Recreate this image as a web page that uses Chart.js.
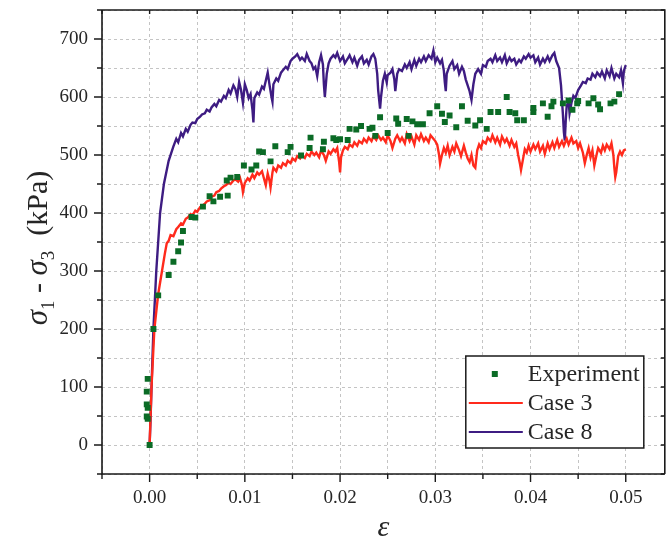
<!DOCTYPE html>
<html><head><meta charset="utf-8">
<script src="https://cdn.jsdelivr.net/npm/chart.js@4.4.1/dist/chart.umd.min.js"></script>
<style>html,body{margin:0;padding:0;background:#fff;overflow:hidden}#wrap{width:669px;height:546px;position:relative}</style>
</head><body><div id="wrap"><canvas id="c"></canvas></div>
<script>
const seriesNames = ['Experiment', 'Case 3', 'Case 8'];
const xTicks = [0, 0.01, 0.02, 0.03, 0.04, 0.05];
const yTicks = [0, 100, 200, 300, 400, 500, 600, 700];

const expStrain = [0,-0.0002,-0.0003,-0.0002,-0.0003,-0.0003,-0.0002,0.0004,0.0009,0.002,0.0025,0.003,0.0033,0.0035,0.0044,0.0048,0.0056,0.0063,0.0067,0.0074,0.0082,0.0081,0.0085,0.0092,0.0099,0.0107,0.0112,0.0115,0.0119,0.0127,0.0132,0.0145,0.0148,0.0159,0.0168,0.0169,0.0182,0.0183,0.0193,0.0196,0.02,0.0208,0.021,0.0217,0.0222,0.0231,0.0234,0.0237,0.0242,0.025,0.0259,0.0261,0.027,0.0272,0.0276,0.0281,0.0287,0.0294,0.0302,0.0307,0.031,0.0315,0.0322,0.0328,0.0334,0.0342,0.0347,0.0354,0.0358,0.0366,0.0375,0.0378,0.0384,0.0386,0.0393,0.0403,0.0403,0.0413,0.0418,0.0422,0.0424,0.0434,0.044,0.0444,0.0449,0.045,0.0461,0.0466,0.0471,0.0473,0.0484,0.0488,0.0493];
const expStress = [0,45,49,64,70,92,114,200,258,293,316,334,349,369,393,392,411,429,420,428,430,456,461,462,482,475,482,506,505,489,515,505,514,499,512,530,510,523,529,526,527,526,545,544,550,545,547,533,565,538,563,554,562,533,558,553,553,572,584,571,557,568,548,584,559,551,560,545,574,574,600,574,572,560,560,581,574,589,566,584,592,589,594,578,589,593,589,598,587,579,589,592,605];

const case3Strain = [0,0.0002,0.0005,0.0009,0.0013,0.0016,0.0018,0.002,0.0022,0.0025,0.0028,0.003,0.0033,0.0035,0.0038,0.004,0.0043,0.0045,0.0048,0.005,0.0053,0.0055,0.0058,0.006,0.0063,0.0065,0.0068,0.007,0.0073,0.0075,0.0078,0.008,0.0083,0.0085,0.0088,0.009,0.0093,0.0095,0.0097,0.0098,0.01,0.0103,0.0105,0.0108,0.011,0.0113,0.0115,0.0118,0.012,0.0122,0.0124,0.0126,0.0127,0.0129,0.013,0.0133,0.0135,0.0138,0.014,0.0143,0.0145,0.0148,0.015,0.0153,0.0155,0.0158,0.016,0.0163,0.0165,0.0168,0.017,0.0173,0.0175,0.0178,0.018,0.0183,0.0185,0.0188,0.019,0.0193,0.0195,0.0197,0.0199,0.02,0.0201,0.0203,0.0205,0.0208,0.021,0.0213,0.0215,0.0218,0.022,0.0223,0.0225,0.0228,0.023,0.0233,0.0235,0.0238,0.024,0.0243,0.0245,0.0248,0.025,0.0253,0.0255,0.0258,0.026,0.0263,0.0265,0.0268,0.027,0.0273,0.0275,0.0278,0.028,0.0283,0.0285,0.0288,0.029,0.0293,0.0295,0.0298,0.03,0.0302,0.0304,0.0305,0.0307,0.0309,0.0311,0.0313,0.0315,0.0318,0.032,0.0322,0.0325,0.0327,0.033,0.0332,0.0334,0.0336,0.0338,0.034,0.0342,0.0344,0.0346,0.0348,0.035,0.0353,0.0355,0.0358,0.036,0.0363,0.0365,0.0368,0.037,0.0373,0.0375,0.0378,0.038,0.0383,0.0385,0.0387,0.0389,0.039,0.0392,0.0394,0.0396,0.0398,0.04,0.0403,0.0405,0.0408,0.041,0.0413,0.0415,0.0418,0.042,0.0423,0.0425,0.0428,0.043,0.0433,0.0435,0.0438,0.044,0.0443,0.0445,0.0448,0.045,0.0452,0.0455,0.0457,0.0459,0.0461,0.0463,0.0465,0.0467,0.0469,0.0471,0.0474,0.0476,0.0478,0.048,0.0483,0.0485,0.0487,0.0488,0.0489,0.049,0.0492,0.0494,0.0496,0.0498,0.05];
const case3Stress = [0,100,200,260,300,330,348,352,362,360,372,376,382,380,390,392,398,396,404,402,410,412,416,420,422,428,430,436,438,442,446,448,452,450,456,458,454,460,448,436,452,460,456,466,460,470,466,472,460,448,468,455,444,470,478,472,482,478,486,482,490,486,494,490,498,494,500,495,502,498,506,500,504,496,508,500,490,506,502,510,506,512,488,470,496,508,514,510,518,514,522,516,524,520,528,522,530,524,532,526,534,526,530,522,534,524,512,528,534,524,530,520,536,524,532,518,534,526,536,524,530,522,534,528,524,518,500,485,500,512,504,516,500,514,506,520,508,498,516,504,494,488,500,482,478,508,518,512,524,520,530,524,534,522,530,518,532,522,528,516,526,514,520,500,484,474,492,510,504,516,506,518,510,520,506,516,502,520,510,522,512,526,514,524,516,528,518,530,520,524,512,520,504,486,500,512,496,508,482,498,512,504,516,508,518,510,520,500,478,462,470,498,506,500,508,510];

const case8Strain = [0,0.0001,0.0002,0.0004,0.0007,0.0011,0.0015,0.002,0.0025,0.0028,0.003,0.0033,0.0035,0.0038,0.004,0.0043,0.0045,0.0048,0.005,0.0053,0.0055,0.0058,0.006,0.0063,0.0065,0.0068,0.007,0.0073,0.0075,0.0078,0.008,0.0083,0.0085,0.0088,0.009,0.0092,0.0094,0.0096,0.0098,0.01,0.0102,0.0104,0.0106,0.0108,0.0109,0.011,0.0113,0.0115,0.0118,0.012,0.0122,0.0124,0.0126,0.0128,0.0129,0.013,0.0133,0.0135,0.0138,0.014,0.0143,0.0145,0.0148,0.015,0.0153,0.0155,0.0158,0.016,0.0163,0.0165,0.0168,0.017,0.0172,0.0174,0.0176,0.0178,0.018,0.0182,0.0183,0.0184,0.0186,0.0188,0.019,0.0193,0.0195,0.0197,0.02,0.0203,0.0205,0.0208,0.021,0.0213,0.0215,0.0218,0.022,0.0223,0.0225,0.0228,0.023,0.0233,0.0235,0.0237,0.0239,0.024,0.0242,0.0243,0.0245,0.0247,0.0249,0.025,0.0253,0.0255,0.0257,0.0258,0.026,0.0262,0.0265,0.0268,0.027,0.0273,0.0275,0.0278,0.028,0.0283,0.0285,0.0288,0.029,0.0293,0.0296,0.0298,0.03,0.0302,0.0305,0.0307,0.0309,0.031,0.0311,0.0312,0.0315,0.0318,0.032,0.0323,0.0325,0.0328,0.033,0.0332,0.0334,0.0336,0.0338,0.034,0.0342,0.0345,0.0348,0.035,0.0353,0.0355,0.0358,0.036,0.0363,0.0365,0.0368,0.037,0.0373,0.0375,0.0378,0.038,0.0383,0.0385,0.0388,0.039,0.0393,0.0395,0.0398,0.04,0.0403,0.0405,0.0408,0.041,0.0413,0.0415,0.0418,0.042,0.0423,0.0425,0.0427,0.043,0.0432,0.0434,0.0435,0.0436,0.0437,0.0438,0.044,0.0441,0.0443,0.0445,0.0447,0.045,0.0453,0.0455,0.0458,0.046,0.0463,0.0465,0.0468,0.047,0.0473,0.0475,0.0478,0.048,0.0483,0.0485,0.0488,0.049,0.0493,0.0495,0.0497,0.0498,0.05];
const case8Stress = [0,45,100,200,300,400,450,490,515,528,522,538,532,545,540,552,556,555,562,566,570,572,578,575,582,588,584,595,592,602,598,612,606,620,614,600,626,612,590,622,612,598,605,578,556,598,608,604,618,614,628,642,620,600,592,622,632,628,642,646,652,648,662,666,670,674,664,668,662,674,662,658,648,652,636,660,672,656,622,600,640,658,666,672,668,676,662,670,658,666,672,660,668,654,664,670,658,664,656,670,674,666,640,612,580,600,628,640,625,638,642,648,630,610,640,648,645,656,650,660,648,664,654,666,660,670,662,672,666,680,660,668,658,664,645,625,610,640,654,662,648,655,640,652,645,630,620,610,595,622,640,648,640,655,652,662,666,660,672,662,668,660,672,658,668,662,666,656,664,660,670,666,674,668,672,660,668,656,666,660,670,662,672,676,662,650,620,570,540,525,560,585,592,572,590,602,598,612,620,626,624,632,630,640,634,642,636,644,632,646,636,650,632,640,634,646,624,645,655];

const toPts = (xs, ys) => xs.map((x, i) => ({x: x, y: ys[i]}));
const SERIF = '"Liberation Serif", "Times New Roman", serif';
const TXT = '#262626';

const decor = {
  id: 'decor',
  afterDraw(chart) {
    const {ctx, chartArea: a, scales: {x, y}} = chart;
    ctx.save();
    ctx.strokeStyle = '#1a1a1a';
    ctx.lineWidth = 1.6;
    ctx.beginPath();
    ctx.moveTo(a.left, a.top); ctx.lineTo(a.left, a.bottom); ctx.lineTo(a.right, a.bottom);
    ctx.moveTo(a.left, a.top); ctx.lineTo(a.right, a.top); ctx.lineTo(a.right, a.bottom);
    ctx.stroke();
    ctx.lineWidth = 1.4;
    ctx.beginPath();
    for (let v = -50; v <= 750; v += 50) {
      const py = y.getPixelForValue(v);
      const L = v % 100 === 0 ? 8 : 5;
      ctx.moveTo(a.left - L, py); ctx.lineTo(a.left, py);
      ctx.moveTo(a.right - 4, py); ctx.lineTo(a.right, py);
    }
    for (let k = -1; k <= 10; k++) {
      const px = x.getPixelForValue(k * 0.005);
      const L = k % 2 === 0 ? 8 : 5;
      ctx.moveTo(px, a.bottom); ctx.lineTo(px, a.bottom + L);
      ctx.moveTo(px, a.top); ctx.lineTo(px, a.top + 4);
    }
    ctx.stroke();

    ctx.fillStyle = TXT;
    ctx.font = 'italic 30px ' + SERIF;
    ctx.textAlign = 'center';
    ctx.textBaseline = 'middle';
    ctx.fillText('ε', (a.left + a.right) / 2, 528);

    const big = '30px ' + SERIF, bigI = 'italic 31px ' + SERIF, small = '19px ' + SERIF;
    const parts = [
      {t: 'σ', f: bigI, dy: 0},
      {t: '1', f: small, dy: 7},
      {t: ' - ', f: big, dy: 0},
      {t: 'σ', f: bigI, dy: 0},
      {t: '3', f: small, dy: 7},
      {t: '  (kPa)', f: big, dy: 0}
    ];
    let total = 0;
    parts.forEach(p => { ctx.font = p.f; p.w = ctx.measureText(p.t).width; total += p.w; });
    ctx.translate(37, (a.top + a.bottom) / 2 + 6);
    ctx.rotate(-Math.PI / 2);
    ctx.textAlign = 'left';
    ctx.textBaseline = 'alphabetic';
    let cx = -total / 2;
    parts.forEach(p => { ctx.font = p.f; ctx.fillText(p.t, cx, 10 + p.dy); cx += p.w; });
    ctx.setTransform(1, 0, 0, 1, 0, 0);

    const lx = a.right - 199, ly = a.bottom - 118, lw = 178, lh = 92;
    ctx.fillStyle = '#fff';
    ctx.fillRect(lx, ly, lw, lh);
    ctx.strokeStyle = '#1a1a1a';
    ctx.lineWidth = 1.5;
    ctx.strokeRect(lx, ly, lw, lh);
    const ds = chart.data.datasets;
    const rows = [ly + 18, ly + 47, ly + 76];
    ds.forEach((d, i) => {
      const ry = rows[i];
      if (i === 0) {
        ctx.fillStyle = d.backgroundColor;
        ctx.fillRect(lx + 26, ry - 3, 6, 6);
      } else {
        ctx.strokeStyle = d.borderColor;
        ctx.lineWidth = 2;
        ctx.beginPath(); ctx.moveTo(lx + 3, ry); ctx.lineTo(lx + 57, ry); ctx.stroke();
      }
      ctx.fillStyle = TXT;
      ctx.font = '24px ' + SERIF;
      ctx.textAlign = 'left';
      ctx.textBaseline = 'middle';
      ctx.fillText(d.label, lx + 62, ry + 1);
    });
    ctx.restore();
  }
};

new Chart(document.getElementById('c'), {
  type: 'scatter',
  data: {
    datasets: [
      {label: seriesNames[0], data: toPts(expStrain, expStress), showLine: false,
       pointStyle: 'rect', pointRadius: 4.2, pointHoverRadius: 4.2, borderWidth: 0,
       backgroundColor: '#0b6b26', borderColor: '#0b6b26'},
      {label: seriesNames[1], data: toPts(case3Strain, case3Stress), showLine: true,
       pointRadius: 0, borderWidth: 2.4, borderColor: '#ff2a1c', backgroundColor: '#ff2a1c', tension: 0},
      {label: seriesNames[2], data: toPts(case8Strain, case8Stress), showLine: true,
       pointRadius: 0, borderWidth: 2.4, borderColor: '#3e1c82', backgroundColor: '#3e1c82', tension: 0}
    ]
  },
  options: {
    responsive: true,
    maintainAspectRatio: false,
    animation: false,
    devicePixelRatio: 1,
    layout: {padding: {top: 10, right: 0, left: 0, bottom: 0}},
    plugins: {legend: {display: false}, tooltip: {enabled: false}},
    scales: {
      x: {
        type: 'linear', min: -0.005, max: 0.0541,
        afterFit: s => { s.height = 72; s.paddingLeft = 0; s.paddingRight = 0; },
        grid: {color: '#c4c4c4', lineWidth: 1, drawTicks: false},
        border: {display: false, dash: [3, 3]},
        ticks: {
          stepSize: 0.005, includeBounds: false, autoSkip: false, maxRotation: 0, padding: 13,
          color: TXT, font: {family: SERIF, size: 19},
          callback: v => { const m = xTicks.find(t => Math.abs(t - v) < 1e-7); return m === undefined ? '' : m.toFixed(2); }
        }
      },
      y: {
        type: 'linear', min: -50, max: 750,
        afterFit: s => { s.width = 102; s.paddingTop = 0; s.paddingBottom = 0; },
        grid: {color: '#c4c4c4', lineWidth: 1, drawTicks: false},
        border: {display: false, dash: [3, 3]},
        ticks: {
          stepSize: 50, includeBounds: false, autoSkip: false, padding: 14,
          color: TXT, font: {family: SERIF, size: 19},
          callback: v => yTicks.includes(v) ? String(v) : ''
        }
      }
    }
  },
  plugins: [decor]
});
</script>
</body></html>
